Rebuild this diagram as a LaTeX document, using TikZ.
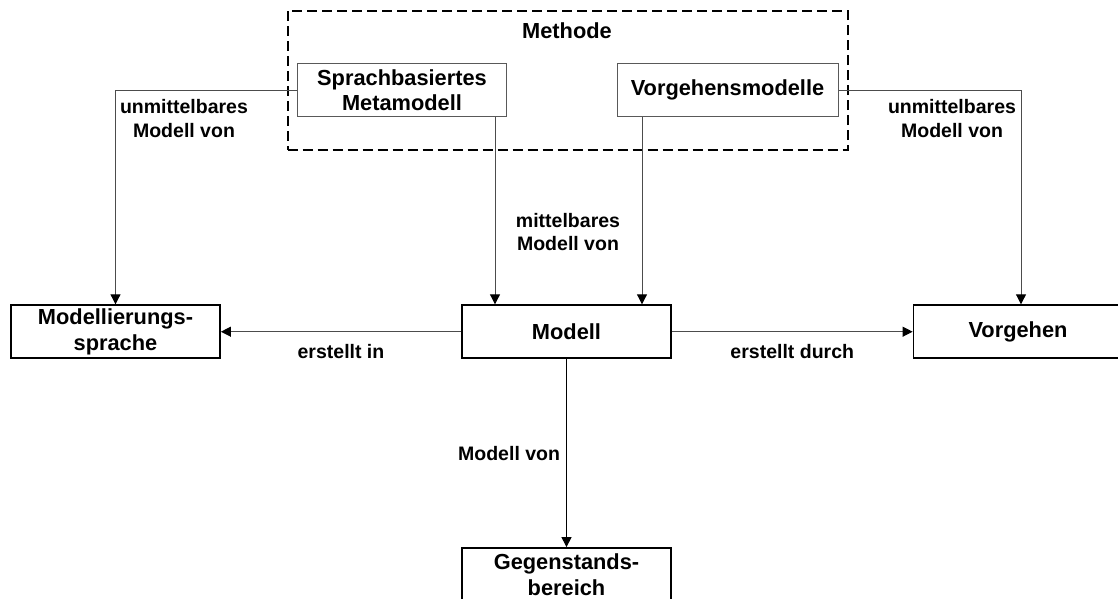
\documentclass[tikz,border=0pt]{standalone}
\usepackage{fontspec}
\setmainfont{Liberation Sans}
\usetikzlibrary{arrows.meta}
\begin{document}
\begin{tikzpicture}[x=1pt,y=-1pt,
box/.style={rectangle,draw=black,line width=1.8pt,minimum width=209pt,minimum height=53pt,font=\bfseries\fontsize{21.8pt}{25.7pt}\selectfont},
inbox/.style={box,draw=black!65,line width=1pt,minimum height=52.7pt},
lbl/.style={font=\bfseries\fontsize{19.5pt}{23.3pt}\selectfont},
conn/.style={draw=black!70,line width=1pt,-{Triangle[length=10pt,width=10pt,color=black]}}]
\tikzstyle{every node}=[inner sep=0pt,align=center]
\useasboundingbox (0,0) rectangle (1118,598);
\node[draw,dash pattern=on 10pt off 5pt,line width=2pt,minimum width=560pt,minimum height=139.3pt] (methode) at (567.5,80.35) {};
\node[box,draw=none] (lmeth) at (567,30.7) {Methode};
\node[inbox] (sprach) at (402,90.3) {Sprachbasiertes\\Metamodell};
\node[inbox,minimum width=221pt] (vgm) at (727.5,90.3) {Vorgehensmodelle};
\node[box] (mls) at (115.5,331.7) {Modellierungs-\\sprache};
\node[box] (modell) at (566.5,331.7) {Modell};
\node[box] (vorgehen) at (1018,331.7) {Vorgehen};
\node[box] (gegen) at (566.5,574.5) {Gegenstands-\\bereich};
\draw[conn] (sprach.west) -| (mls.north);
\draw[conn] ([xshift=-12pt]sprach.south east) -- ([xshift=-12pt]sprach.south east |- modell.north);
\draw[conn] ([xshift=25.5pt]vgm.south west) -- ([xshift=25.5pt]vgm.south west |- modell.north);
\draw[conn] (vgm.east) -| ([xshift=3pt]vorgehen.north);
\draw[conn] (modell.west) -- node[lbl,yshift=-19.5pt] (lin) {erstellt in} (mls.east);
\draw[conn] (modell.east) -- node[lbl,yshift=-19.5pt] (ldurch) {erstellt durch} (vorgehen.west);
\draw[conn,draw=black] (modell.south) -- node[lbl,anchor=east,xshift=-6pt] (lvon) {Modell von} (gegen.north);
\node[lbl] (lunl) at (184,118.5) {unmittelbares\\Modell von};
\node[lbl] (lunr) at (952,118.5) {unmittelbares\\Modell von};
\node[lbl] (lmit) at (568,232) {mittelbares\\Modell von};
%\node[lbl] at (567,30.7) {Methode};
\end{tikzpicture}
\end{document}
